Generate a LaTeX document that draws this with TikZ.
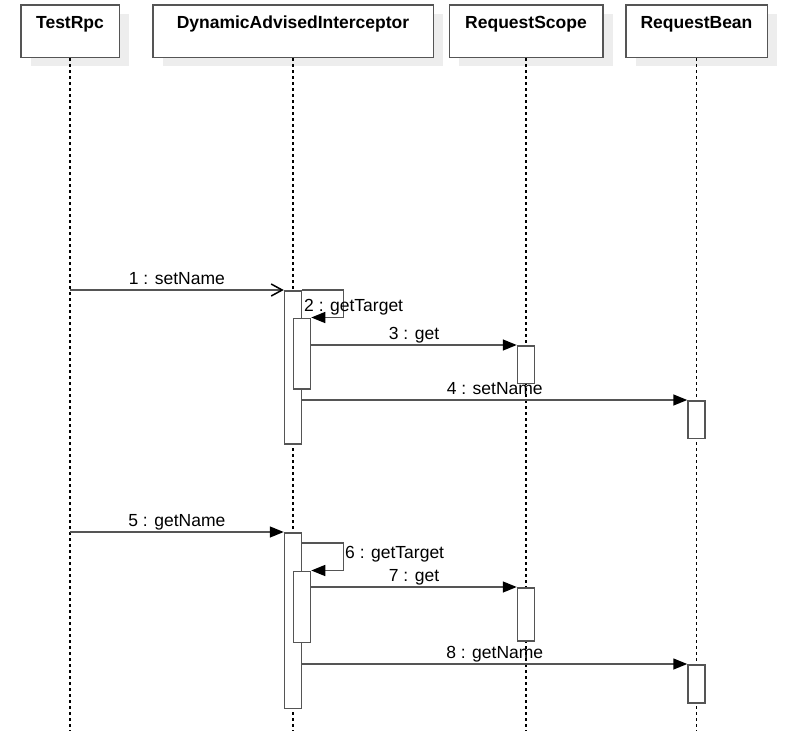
\documentclass[tikz,border=0pt]{standalone}
\usepackage{fontspec}
\setmainfont{Liberation Sans}
\usetikzlibrary{arrows.meta,positioning,shadows}
\definecolor{edge}{HTML}{555555}
\definecolor{shade}{HTML}{EDEDED}
\tikzstyle{head}     = [rectangle, draw=edge, line width=1.5pt, fill=white, font=\fontsize{17.5}{20}\selectfont\bfseries, minimum height=52.5pt, text height=13pt, text depth=18pt, inner ysep=10.5pt, drop shadow={shadow xshift=10pt, shadow yshift=-9pt, fill=shade, opacity=1}]
\tikzstyle{act}      = [rectangle, draw=edge, line width=1.5pt, fill=white, minimum width=17pt, inner sep=0pt, anchor=north]
\tikzstyle{lifeline} = [draw=black, line width=1.2pt, dash pattern=on 3pt off 3pt]
\tikzstyle{msg}      = [font=\fontsize{17.5}{20}\selectfont, text=black, inner sep=0pt]
\tikzstyle{label}    = [msg, midway, anchor=base, yshift=5.5pt]
\tikzstyle{call}     = [draw=edge, line width=1.5pt, -{Triangle[length=14pt,width=11pt,black]}]
\tikzstyle{opencall} = [draw=edge, line width=1.5pt, -{Straight Barb[length=11pt,width=12pt,black]}]
\begin{document}
\begin{tikzpicture}[x=1pt, y=-1pt]
	\useasboundingbox (0,0) rectangle (785,731);

		% Lifeline heads %

		\node [head, minimum width=98.5pt] (rpc) at (70,31) {TestRpc};
		\node [head, minimum width=280.5pt] (dai) at (293,31) {DynamicAdvisedInterceptor};
		\node [head, minimum width=153.5pt] (scope) at (526,31) {RequestScope};
		\node [head, minimum width=141.5pt] (bean) at (696.5,31) {RequestBean};

		\coordinate (rpcEnd) at (rpc.south |- 0,731);
		\coordinate (daiEnd) at (dai.south |- 0,731);
		\coordinate (scopeEnd) at (scope.south |- 0,731);
		\coordinate (beanEnd) at (bean.south |- 0,731);

		\path [lifeline] (rpc.south) -- (rpcEnd);
		\path [lifeline] (dai.south) -- (daiEnd);
		\path [lifeline] (scope.south) -- (scopeEnd);
		\path [lifeline] (bean.south) -- (beanEnd);

		% setName =================================%
		\node [act, minimum height=153pt] (act1) at (dai.south |- 0,290) {};
		\node [act, minimum height=70.5pt] (act2) at ([xshift=9pt]dai.south |- 0,317.5) {};
		\node [act, minimum height=37.5pt] (rs1) at (scope.south |- 0,345) {};
		\node [act, minimum height=37.5pt] (rb1) at (bean.south |- 0,400) {};
		% getName =================================%
		\node [act, minimum height=175.5pt] (act5) at (dai.south |- 0,532) {};
		\node [act, minimum height=71pt] (act6) at ([xshift=9pt]dai.south |- 0,570.5) {};
		\node [act, minimum height=53pt] (rs2) at (scope.south |- 0,587) {};
		\node [act, minimum height=38pt] (rb2) at (bean.south |- 0,664) {};
		%=========================================%

		% Messages %

		\path [opencall] (rpc.south |- act1.north) -- (act1.north west) node [label] (m1) {1 : setName};
		\path [call] (act1.north east) -- ++(41,0) |- (act2.north east);
		\node [msg, anchor=base west] (m2) at (304,311) {2 : getTarget};
		\path [call] (act2.east |- rs1.north) -- (rs1.north west) node [label] (m3) {3 : get};
		\path [call] (act1.east |- rb1.north) -- (rb1.north west) node [label] (m4) {4 : setName};

		\path [call] (rpc.south |- act5.north) -- (act5.north west) node [label] (m5) {5 : getName};
		\path [call] (act5.east |- 0,543) -- ++(41,0) |- (act6.north east);
		\node [msg, anchor=base west] (m6) at (345,558) {6 : getTarget};
		\path [call] (act6.east |- rs2.north) -- (rs2.north west) node [label] (m7) {7 : get};
		\path [call] (act5.east |- rb2.north) -- (rb2.north west) node [label] (m8) {8 : getName};
	\end{tikzpicture}
\end{document}
